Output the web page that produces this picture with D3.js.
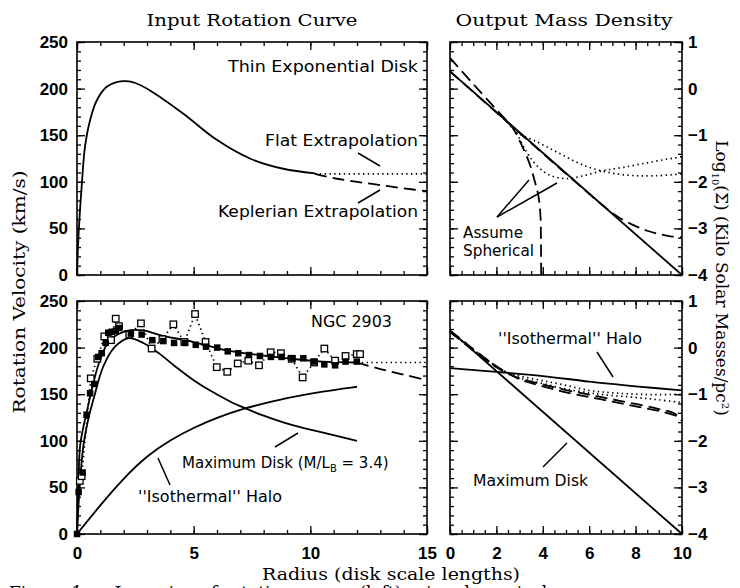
<!DOCTYPE html>
<html><head><meta charset="utf-8">
<script src="https://cdn.jsdelivr.net/npm/d3@7"></script>
<style>
body{margin:0;background:#fff;}
svg{display:block;}
.tick text{font-family:"Liberation Sans",Arial,sans-serif;font-weight:bold;font-size:17px;fill:#000;}
.lbl{font-family:"DejaVu Sans",sans-serif;font-size:15px;fill:#000;}
.ser{font-family:"DejaVu Serif","Liberation Serif",serif;font-size:17px;fill:#000;}
</style></head>
<body><svg id="c" width="740" height="588"></svg>
<script>
// ---------- DATA ----------
// Top-left: thin exponential disk rotation curve
const diskR = [0, 0.07, 0.2, 0.34, 0.56, 0.84, 1.27, 1.7, 2.1, 2.5, 3.13, 4.56, 5.99, 7.41, 8.84, 10.2];
const diskV = [0, 45, 95, 137, 166, 187, 202, 207, 208, 206, 198, 173, 145, 125, 114, 109];
const flatR = [10.2, 15];
const flatV = [108.5, 108.5];
const keplerR = [10.2, 11, 12, 13, 14, 15];
const keplerV = [108.5, 104, 100, 96.5, 93, 90];

// Top-right: log surface density
const trSolidX = [0, 10];
const trSolidY = [0.37, -4.0];
const trSphKepX = [0, 1, 2, 2.73, 2.95, 3.2, 3.45, 3.66, 3.81, 3.9, 3.92, 3.93];
const trSphKepY = [0.66, 0.1, -0.45, -0.86, -1.07, -1.33, -1.64, -2.0, -2.3, -2.74, -3.3, -4.0];
const trDiskKepX = [0, 6.5, 7.2, 8.0, 8.5, 9.0, 9.5, 10];
const trDiskKepY = [0.37, -2.47, -2.74, -2.95, -3.05, -3.12, -3.17, -3.19];
const trDiskFlatX = [2.6, 2.87, 3.74, 4.6, 5.46, 6.18, 7.18, 8.05, 8.9, 10];
const trDiskFlatY = [-0.77, -0.93, -1.14, -1.36, -1.58, -1.72, -1.83, -1.87, -1.87, -1.83];
const trSphFlatX = [2.6, 2.87, 3.3, 3.74, 4.31, 5.03, 5.75, 6.6, 7.47, 8.62, 10];
const trSphFlatY = [-0.8, -0.96, -1.36, -1.65, -1.86, -1.93, -1.87, -1.76, -1.69, -1.58, -1.46];

// Bottom-left: NGC 2903
const filledR = [0, 0.07, 0.24, 0.41, 0.56, 0.74, 0.91, 1.06, 1.23, 1.34, 1.49, 1.66, 1.81, 2.31, 2.77, 3.23, 3.7, 4.16, 4.63, 5.09, 5.53, 6.01, 6.46, 6.91, 7.37, 7.84, 8.31, 8.77, 9.23, 9.7, 10.16, 10.6, 11.06, 11.51, 11.99];
const filledV = [0, 45, 66, 128, 151, 161, 190, 194, 205, 216, 217, 218, 221, 215, 214, 208, 207, 205, 205, 203, 201, 200, 196, 194, 192, 191, 190, 190, 188.5, 188.5, 185, 182, 181, 185, 185];
const openR = [0.12, 0.2, 0.59, 0.87, 1.17, 1.46, 1.66, 1.8, 2.24, 2.74, 3.2, 3.66, 4.13, 4.6, 5.06, 5.51, 5.99, 6.44, 6.89, 7.34, 7.8, 8.3, 8.74, 9.2, 9.67, 10.16, 10.6, 11.06, 11.51, 11.99, 12.13];
const openV = [57, 62, 167, 188, 212, 208, 231, 223, 214, 226, 199, 209, 225, 206, 236, 206, 179, 174, 183, 186, 181, 195, 194, 188, 168, 184, 199, 186, 191, 193, 193];
const totalR = [0, 0.05, 0.13, 0.25, 0.41, 0.7, 0.99, 1.41, 2.13, 2.84, 3.56, 4.99, 6.41, 7.84, 9.2, 10.5, 12];
const totalV = [0, 45, 94, 112, 130, 162, 187, 208, 218, 218.5, 213.5, 206, 197, 192, 188, 185, 184];
const maxDiskR = [0, 0.1, 0.27, 0.5, 0.7, 1.13, 1.63, 2.2, 2.84, 3.56, 4.2, 5, 5.63, 6.5, 7.2, 8, 9.2, 10.5, 12];
const maxDiskV = [0, 45, 94, 125, 144, 180, 201, 210, 205, 193, 180, 165, 155, 143, 135, 127, 117, 109, 100];
const haloR = [0, 1, 2, 3, 4, 5, 6, 7.2, 8, 9.2, 10.5, 12];
const haloV = [0, 31, 60, 84, 101, 114, 125, 135, 140, 147, 153, 158];
const blFlatR = [12, 15];
const blFlatV = [184, 184];
const blKepR = [12, 13, 14, 15];
const blKepV = [184, 177, 171, 165];

// Bottom-right: log surface density, NGC 2903
const brDiskX = [0, 10];
const brDiskY = [0.37, -4.0];
const brHaloX = [0, 2, 4, 6, 8, 10];
const brHaloY = [-0.44, -0.52, -0.61, -0.73, -0.83, -0.92];
const brDash1X = [0, 0.5, 1, 1.5, 2, 2.5, 3, 4, 5, 6, 7, 8, 9, 10];
const brDash1Y = [0.36, 0.17, -0.03, -0.22, -0.4, -0.55, -0.68, -0.83, -0.96, -1.06, -1.16, -1.26, -1.36, -1.5];
const brDash2X = [0, 0.5, 1, 1.5, 2, 2.5, 3, 4, 5, 6, 7, 8, 9, 9.7, 10];
const brDash2Y = [0.33, 0.14, -0.06, -0.25, -0.42, -0.56, -0.66, -0.79, -0.91, -1.01, -1.11, -1.21, -1.32, -1.42, -1.58];
const brDot1X = [0, 1, 2, 2.5, 3, 4, 5, 6, 7, 8, 9, 10];
const brDot1Y = [0.35, -0.04, -0.4, -0.54, -0.61, -0.71, -0.81, -0.92, -0.97, -1.0, -1.01, -1.0];
const brDot2X = [0, 1, 2, 3, 4, 5, 6, 6.6, 8, 9, 10];
const brDot2Y = [0.34, -0.05, -0.41, -0.65, -0.77, -0.89, -0.97, -1.01, -1.07, -1.12, -1.18];

// Tick labels
const velTicks = [0, 50, 100, 150, 200, 250];
const radTicksL = [0, 5, 10, 15];
const radTicksR = [0, 2, 4, 6, 8, 10];
const logTicks = [1, 0, -1, -2, -3, -4];

// ---------- LAYOUT ----------
const svg = d3.select("#c");
const L = {x0: 77, x1: 427}, R = {x0: 450, x1: 682};
const T = {y0: 42, y1: 275}, B = {y0: 301, y1: 534};

const xL = d3.scaleLinear().domain([0, 15]).range([L.x0, L.x1]);
const xR = d3.scaleLinear().domain([0, 10]).range([R.x0, R.x1]);
const yVT = d3.scaleLinear().domain([0, 250]).range([T.y1, T.y0]);
const yVB = d3.scaleLinear().domain([0, 250]).range([B.y1, B.y0]);
const yLT = d3.scaleLinear().domain([-4, 1]).range([T.y1, T.y0]);
const yLB = d3.scaleLinear().domain([-4, 1]).range([B.y1, B.y0]);

function rng(a, b, s) { const o = []; for (let v = a; v <= b + 1e-9; v += s) o.push(+v.toFixed(4)); return o; }

function panel(x, y, xMaj, xMin, yMaj, yMin, opts) {
  const g = svg.append("g");
  const [xa, xb] = x.range(), [yb, ya] = y.range();
  const mk = (axisFn, sc, vals, size, fmt, tr, pad) => {
    const a = axisFn(sc).tickValues(vals).tickSize(size).tickSizeOuter(0).tickPadding(pad || 3);
    a.tickFormat(fmt || (() => ""));
    const ag = g.append("g").attr("transform", tr).call(a);
    ag.select(".domain").remove();
    ag.selectAll("line").attr("stroke", "#000").attr("stroke-width", 1.3);
    return ag;
  };
  mk(d3.axisBottom, x, xMin, -4, null, `translate(0,${yb})`);
  mk(d3.axisBottom, x, xMaj, -8, opts.xLabels ? d3.format("d") : null, `translate(0,${yb})`, 13);
  mk(d3.axisTop, x, xMin, -4, null, `translate(0,${ya})`);
  mk(d3.axisTop, x, xMaj, -8, null, `translate(0,${ya})`);
  mk(d3.axisLeft, y, yMin, -4, null, `translate(${xa},0)`);
  mk(d3.axisLeft, y, yMaj, -8, opts.left ? d3.format("d") : null, `translate(${xa},0)`, 9);
  mk(d3.axisRight, y, yMin, -4, null, `translate(${xb},0)`);
  mk(d3.axisRight, y, yMaj, -8, opts.right ? d3.format("d") : null, `translate(${xb},0)`, 6);
  g.append("rect").attr("x", xa).attr("y", ya).attr("width", xb - xa).attr("height", yb - ya)
    .attr("fill", "none").attr("stroke", "#000").attr("stroke-width", 1.6);
  return g;
}

function curve(xs, ys, xsc, ysc, style, curveType) {
  const pts = xs.map((d, i) => [d, ys[i]]);
  const line = d3.line().x(d => xsc(d[0])).y(d => ysc(d[1])).curve(curveType || d3.curveCatmullRom.alpha(0.5));
  const p = svg.append("path").datum(pts).attr("d", line).attr("fill", "none").attr("stroke", "#000")
    .attr("stroke-width", 1.8).attr("stroke-linejoin", "round");
  if (style === "dot") p.attr("stroke-dasharray", "1.4,3.4").attr("stroke-width", 1.7);
  if (style === "dash") p.attr("stroke-dasharray", "12,6");
  return p;
}

function label(x, y, txt, cls, anchor, len) {
  const t = svg.append("text").attr("x", x).attr("y", y).attr("class", cls || "lbl")
    .attr("text-anchor", anchor || "start").text(txt);
  if (len) t.attr("textLength", len).attr("lengthAdjust", "spacingAndGlyphs");
  return t;
}
function leader(x1, y1, x2, y2) {
  svg.append("line").attr("x1", x1).attr("y1", y1).attr("x2", x2).attr("y2", y2)
    .attr("stroke", "#000").attr("stroke-width", 1.5);
}

// ---------- PANELS ----------
panel(xL, yVT, radTicksL, rng(0, 15, 1), velTicks, rng(0, 250, 10), {left: true});
panel(xR, yLT, radTicksR, rng(0, 10, 0.5), logTicks, rng(-4, 1, 0.2), {right: true});
panel(xL, yVB, radTicksL, rng(0, 15, 1), velTicks, rng(0, 250, 10), {left: true, xLabels: true});
panel(xR, yLB, radTicksR, rng(0, 10, 0.5), logTicks, rng(-4, 1, 0.2), {right: true, xLabels: true});

// Top-left curves
curve(diskR, diskV, xL, yVT, "solid");
curve(flatR, flatV, xL, yVT, "dot", d3.curveLinear);
curve(keplerR, keplerV, xL, yVT, "dash");

// Top-right curves
curve(trSolidX, trSolidY, xR, yLT, "solid", d3.curveLinear);
curve(trSphKepX, trSphKepY, xR, yLT, "dash");
curve(trDiskKepX, trDiskKepY, xR, yLT, "dash");
curve(trDiskFlatX, trDiskFlatY, xR, yLT, "dot");
curve(trSphFlatX, trSphFlatY, xR, yLT, "dot");

// Bottom-left curves
curve(openR, openV, xL, yVB, "dot", d3.curveLinear);
curve(totalR, totalV, xL, yVB, "solid");
curve(maxDiskR, maxDiskV, xL, yVB, "solid");
curve(haloR, haloV, xL, yVB, "solid", d3.curveBasis);
curve(blFlatR, blFlatV, xL, yVB, "dot", d3.curveLinear);
curve(blKepR, blKepV, xL, yVB, "dash");
const sq = 6.5;
svg.append("g").selectAll("rect").data(openR.map((d, i) => [d, openV[i]])).join("rect")
  .attr("x", d => xL(d[0]) - sq / 2).attr("y", d => yVB(d[1]) - sq / 2).attr("width", sq).attr("height", sq)
  .attr("fill", "#fff").attr("stroke", "#000").attr("stroke-width", 1.3);
svg.append("g").selectAll("rect").data(filledR.map((d, i) => [d, filledV[i]])).join("rect")
  .attr("x", d => xL(d[0]) - sq / 2).attr("y", d => yVB(d[1]) - sq / 2).attr("width", sq).attr("height", sq)
  .attr("fill", "#000");

// Bottom-right curves
curve(brDiskX, brDiskY, xR, yLB, "solid", d3.curveLinear);
curve(brHaloX, brHaloY, xR, yLB, "solid");
curve(brDash1X, brDash1Y, xR, yLB, "dash");
curve(brDash2X, brDash2Y, xR, yLB, "dash");
curve(brDot1X, brDot1Y, xR, yLB, "dot");
curve(brDot2X, brDot2Y, xR, yLB, "dot");

// ---------- TEXT ----------
label(252, 26, "Input Rotation Curve", "ser", "middle", 211);
label(564, 26, "Output Mass Density", "ser", "middle", 217);

label(418, 72, "Thin Exponential Disk", "lbl", "end", 190);
label(418, 146, "Flat Extrapolation", "lbl", "end", 153);
leader(358, 153, 380, 166);
label(418, 217, "Keplerian Extrapolation", "lbl", "end", 200);
leader(358, 203, 380, 190);

label(463, 238, "Assume", "lbl", "start", 60);
label(463, 256, "Spherical", "lbl", "start", 71);
leader(497, 217, 529, 180);
leader(497, 217, 557, 183);

label(392, 327, "NGC 2903", "lbl", "end", 81);
const md = svg.append("text").attr("x", 182).attr("y", 468).attr("class", "lbl");
md.append("tspan").text("Maximum Disk (M/L");
md.append("tspan").attr("font-size", 10).attr("dy", 4).text("B");
md.append("tspan").attr("dy", -4).text(" = 3.4)");
leader(275, 447, 298, 433);
label(138, 502, "''Isothermal'' Halo", "lbl", "start", 144);
leader(158, 458, 170, 485);

label(498, 344, "''Isothermal'' Halo", "lbl", "start", 144);
leader(597, 352, 613, 377);
label(473, 486, "Maximum Disk", "lbl", "start", 115);
leader(543, 467, 567, 443);

// Axis titles
svg.append("text").attr("class", "ser").attr("text-anchor", "middle")
  .attr("transform", "translate(25,292) rotate(-90)").attr("textLength", 243).attr("lengthAdjust", "spacingAndGlyphs")
  .text("Rotation Velocity (km/s)");
const rt = svg.append("text").attr("class", "ser").attr("text-anchor", "middle")
  .attr("transform", "translate(716,278) rotate(90)");
rt.append("tspan").text("Log");
rt.append("tspan").attr("font-size", 10).attr("dy", 4).text("10");
rt.append("tspan").attr("dy", -4).text("(Σ)  (Kilo Solar Masses/pc");
rt.append("tspan").attr("font-size", 10).attr("dy", -6).text("2");
rt.append("tspan").attr("dy", 6).text(")");

label(391, 580, "Radius (disk scale lengths)", "ser", "middle", 258);

// Caption (cut off at the bottom edge, as in the reference)
const cap = svg.append("text").attr("x", 8).attr("y", 598).attr("class", "ser").attr("font-size", 20);
cap.append("tspan").attr("font-style", "italic").text("Figure 1.");
cap.append("tspan").text(" — Inversion of rotation curves (left) using dynamical sur");
</script></body></html>
